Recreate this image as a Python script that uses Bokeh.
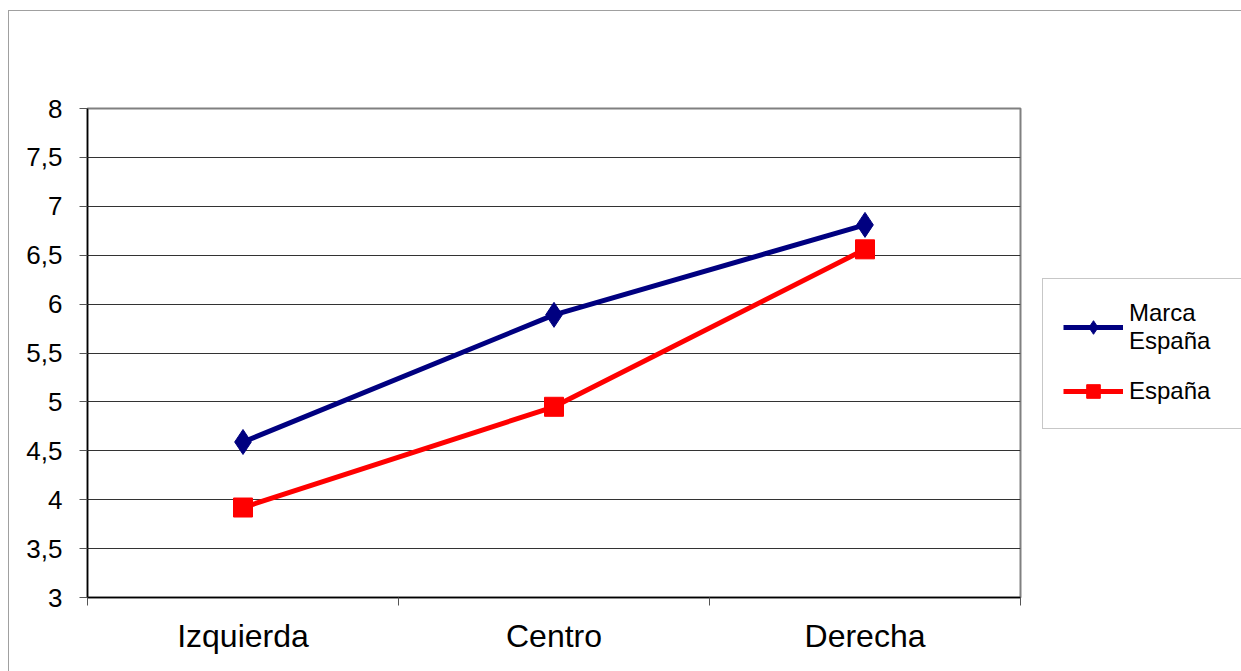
from bokeh.plotting import figure
from bokeh.layouts import row
from bokeh.models import Range1d, FixedTicker, Legend, LegendItem
from bokeh.embed import file_html
from bokeh.resources import INLINE

categories = ["Izquierda", "Centro", "Derecha"]
marca_espana = [4.59, 5.89, 6.81]
espana = [3.92, 4.95, 6.56]
series_names = ["Marca\nEspaña", "España"]
y_ticks = [3, 3.5, 4, 4.5, 5, 5.5, 6, 6.5, 7, 7.5, 8]
y_tick_labels = ["3", "3,5", "4", "4,5", "5", "5,5", "6", "6,5", "7", "7,5", "8"]

BLUE = "#000080"
RED = "#ff0000"
FONT = "Liberation Sans"

xs = [i + 0.5 for i in range(len(categories))]

# ---- main chart ----
p = figure(width=1032, height=661, output_backend="svg", toolbar_location=None,
           x_range=Range1d(0, len(categories)), y_range=Range1d(3, 8),
           min_border_left=78, min_border_right=21, min_border_top=97, min_border_bottom=75)
p.outline_line_color = "#808080"
p.outline_line_width = 2
p.background_fill_color = "white"
p.border_fill_color = "white"

p.yaxis.ticker = FixedTicker(ticks=y_ticks)
p.yaxis.major_label_overrides = {t: l for t, l in zip(y_ticks, y_tick_labels)}
p.yaxis.major_tick_out = 8
p.yaxis.major_tick_in = 0
p.yaxis.minor_tick_line_color = None
p.yaxis.axis_line_color = "black"
p.yaxis.axis_line_width = 1.5
p.yaxis.major_tick_line_color = "#555555"
p.yaxis.major_label_text_font = FONT
p.yaxis.major_label_text_font_size = "26px"
p.yaxis.major_label_text_color = "black"
p.yaxis.major_label_standoff = 17

p.xaxis.ticker = FixedTicker(ticks=xs, minor_ticks=list(range(len(categories) + 1)))
p.xaxis.major_label_overrides = {x: c for x, c in zip(xs, categories)}
p.xaxis.major_tick_line_color = None
p.xaxis.major_tick_out = 0
p.xaxis.major_tick_in = 0
p.xaxis.minor_tick_out = 8
p.xaxis.minor_tick_in = 0
p.xaxis.minor_tick_line_color = "#555555"
p.xaxis.axis_line_color = "black"
p.xaxis.axis_line_width = 1.5
p.xaxis.major_label_text_font = FONT
p.xaxis.major_label_text_font_size = "32px"
p.xaxis.major_label_text_color = "black"
p.xaxis.major_label_standoff = 12

p.xgrid.grid_line_color = None
p.ygrid.ticker = FixedTicker(ticks=y_ticks)
p.ygrid.grid_line_color = "#333333"
p.ygrid.grid_line_width = 1

p.line(xs, marca_espana, line_color=BLUE, line_width=5)
p.scatter(xs, marca_espana, marker="diamond", size=25, fill_color=BLUE, line_color=BLUE)
p.line(xs, espana, line_color=RED, line_width=5)
p.scatter(xs, espana, marker="square", size=19, fill_color=RED, line_color=RED)

# ---- legend panel (proxy renderers lie outside its ranges, only the legend shows) ----
q = figure(width=200, height=661, output_backend="svg", toolbar_location=None,
           x_range=Range1d(100, 101), y_range=Range1d(100, 101),
           min_border_left=0, min_border_right=0, min_border_top=0, min_border_bottom=0,
           x_axis_location=None, y_axis_location=None)
q.grid.visible = False
q.outline_line_color = None
q.background_fill_color = "white"
q.border_fill_color = "white"

ql1 = q.line(xs, marca_espana, line_color=BLUE, line_width=5)
qm1 = q.scatter(xs, marca_espana, marker="diamond", size=25, fill_color=BLUE, line_color=BLUE)
ql2 = q.line(xs, espana, line_color=RED, line_width=5)
qm2 = q.scatter(xs, espana, marker="square", size=19, fill_color=RED, line_color=RED)

legend = Legend(items=[LegendItem(label=series_names[0], renderers=[ql1, qm1]),
                       LegendItem(label=series_names[1], renderers=[ql2, qm2])],
                location=(1, 168), margin=0, padding=20, spacing=19,
                glyph_width=60, glyph_height=34, label_standoff=6, label_width=200,
                label_text_font=FONT, label_text_font_size="24px",
                label_text_color="black",
                border_line_color="#909090", border_line_width=1,
                background_fill_color="white")
q.add_layout(legend, "center")

layout = row(p, q, spacing=0)
layout.margin = (10, 0, 0, 8)
layout.styles = {"border-top": "1px solid #a0a0a0", "border-left": "1px solid #a0a0a0"}

open("out.html", "w").write(file_html(layout, INLINE))
